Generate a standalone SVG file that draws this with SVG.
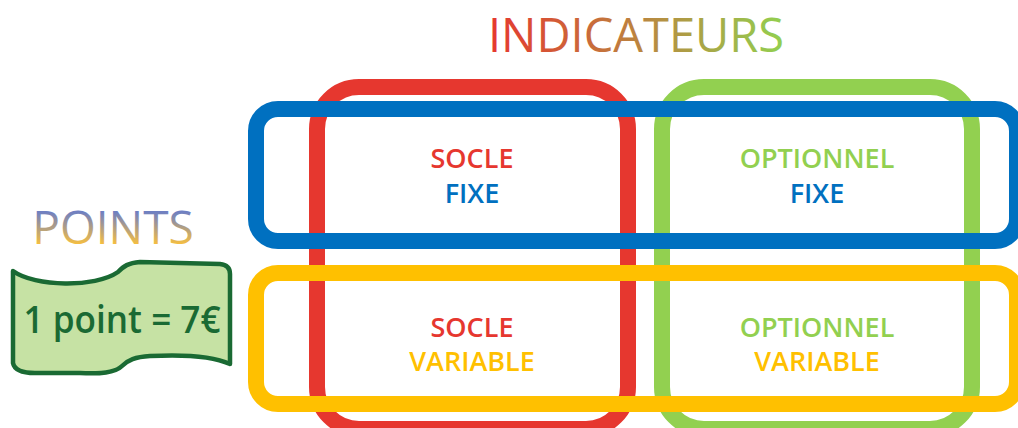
<svg xmlns="http://www.w3.org/2000/svg" width="1018" height="428" viewBox="0 0 1018 428">
<defs>
<linearGradient id="gTitle" x1="488" y1="0" x2="785" y2="0" gradientUnits="userSpaceOnUse">
<stop offset="0" stop-color="#E6372F"/>
<stop offset="1" stop-color="#92D050"/>
</linearGradient>
<linearGradient id="gPoints" x1="0" y1="212" x2="0" y2="245" gradientUnits="userSpaceOnUse">
<stop offset="0" stop-color="#6F80C2"/>
<stop offset="1" stop-color="#F9C03E"/>
</linearGradient>
</defs>
<style>
.frame{fill:none;stroke-width:16}
.lbl{font-family:"Open Sans","Noto Sans",sans-serif;font-weight:600;font-size:27px;text-anchor:middle}
.red{fill:#E6372F}.green{fill:#92D050}.blue{fill:#0070C0}.yellow{fill:#FFC000}
</style>
<rect width="1018" height="428" fill="#FFFFFF"/>
<text x="636" y="52" font-family="'Open Sans','Noto Sans',sans-serif" font-size="47" text-anchor="middle" fill="url(#gTitle)">INDICATEURS</text>
<text x="113" y="244" font-family="'Open Sans','Noto Sans',sans-serif" font-size="46" text-anchor="middle" fill="url(#gPoints)">POINTS</text>
<g id="frames">
<rect id="socle" class="frame" x="317" y="87" width="311" height="342" rx="42" stroke="#E6372F"/>
<rect id="optionnel" class="frame" x="662" y="87" width="310" height="342" rx="42" stroke="#92D050"/>
<rect id="fixe" class="frame" x="256" y="109" width="761" height="132" rx="22" stroke="#0070C0"/>
<rect id="variable" class="frame" x="256" y="273" width="761" height="131" rx="22" stroke="#FFC000"/>
</g>
<g id="banner">
<path d="M13,271 C35,287 95,288 118,272 C124,266 128,263 140,262 L220,264 Q230,265 230,274 L230,364 C215,357 190,354 150,356 C135,357 128,360 122,366 C115,373 100,374 80,373 L35,373 Q15,373 13,363 Z" fill="#C6E2A4" stroke="#1A6A33" stroke-width="4.5" stroke-linejoin="round"/>
<text x="122" y="333" font-family="'Open Sans','Noto Sans',sans-serif" font-weight="600" font-size="37" text-anchor="middle" fill="#1A6A33" textLength="197" lengthAdjust="spacingAndGlyphs">1 point = 7€</text>
</g>
<g id="cell-socle-fixe">
<text class="lbl red" x="472" y="168">SOCLE</text>
<text class="lbl blue" x="472" y="203">FIXE</text>
</g>
<g id="cell-optionnel-fixe">
<text class="lbl green" x="817" y="168">OPTIONNEL</text>
<text class="lbl blue" x="817" y="203">FIXE</text>
</g>
<g id="cell-socle-variable">
<text class="lbl red" x="472" y="337">SOCLE</text>
<text class="lbl yellow" x="472" y="371">VARIABLE</text>
</g>
<g id="cell-optionnel-variable">
<text class="lbl green" x="817" y="337">OPTIONNEL</text>
<text class="lbl yellow" x="817" y="371">VARIABLE</text>
</g>
</svg>
